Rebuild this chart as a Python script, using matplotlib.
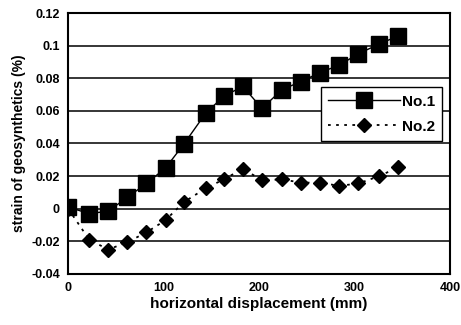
import matplotlib.pyplot as plt

# horizontal displacement (mm) and strain (%) for the two geosynthetic layers
disp = [0, 22, 42, 62, 82, 102, 121, 144, 163, 183, 203, 224, 244, 264, 284, 304, 326, 346]
strain_no1 = [0.001, -0.003, -0.0015, 0.007, 0.0155, 0.025, 0.0395, 0.0585, 0.069, 0.075,
              0.0615, 0.073, 0.078, 0.0835, 0.088, 0.095, 0.101, 0.106]
strain_no2 = [0.0, -0.019, -0.025, -0.0205, -0.0145, -0.007, 0.004, 0.0125, 0.018, 0.0245,
              0.0175, 0.018, 0.016, 0.016, 0.014, 0.0155, 0.020, 0.0255]
yticks = [-0.04, -0.02, 0, 0.02, 0.04, 0.06, 0.08, 0.1, 0.12]
ytick_labels = ["-0.04", "-0.02", "0", "0.02", "0.04", "0.06", "0.08", "0.1", "0.12"]
xticks = [0, 100, 200, 300, 400]

plt.rcParams["font.family"] = "Liberation Sans"
plt.rcParams["font.weight"] = "bold"
plt.rcParams["axes.labelweight"] = "bold"

fig = plt.figure(figsize=(4.61, 3.25), dpi=100)
ax = fig.add_axes([0.148, 0.157, 0.828, 0.803])

for y in yticks[1:-1]:
    ax.axhline(y, color="black", linewidth=1.1, zorder=1)

ax.plot(disp, strain_no1, color="black", linewidth=1.0, marker="s",
        markersize=11, label="No.1", zorder=3)
ax.plot(disp, strain_no2, color="black", linewidth=1.3, linestyle=(0, (1.5, 3)),
        marker="D", markersize=7.5, label="No.2", zorder=3)

ax.set_xlim(0, 400)
ax.set_ylim(-0.04, 0.12)
ax.set_xticks(xticks)
ax.set_yticks(yticks)
ax.set_yticklabels(ytick_labels)
ax.tick_params(length=0, labelsize=9, pad=6)
for s in ax.spines.values():
    s.set_linewidth(1.5)

ax.set_xlabel("horizontal displacement (mm)", fontsize=11, labelpad=2)
ax.set_ylabel("strain of geosynthetics (%)", fontsize=10, labelpad=4)

leg = ax.legend(loc="upper right", bbox_to_anchor=(1.0, 0.745), fontsize=11,
                frameon=True, fancybox=False, edgecolor="black", framealpha=1,
                handlelength=4.7, borderpad=0.5, labelspacing=0.7, handletextpad=0.1)
leg.get_frame().set_linewidth(1.0)

fig.savefig("out.png", dpi=100)
